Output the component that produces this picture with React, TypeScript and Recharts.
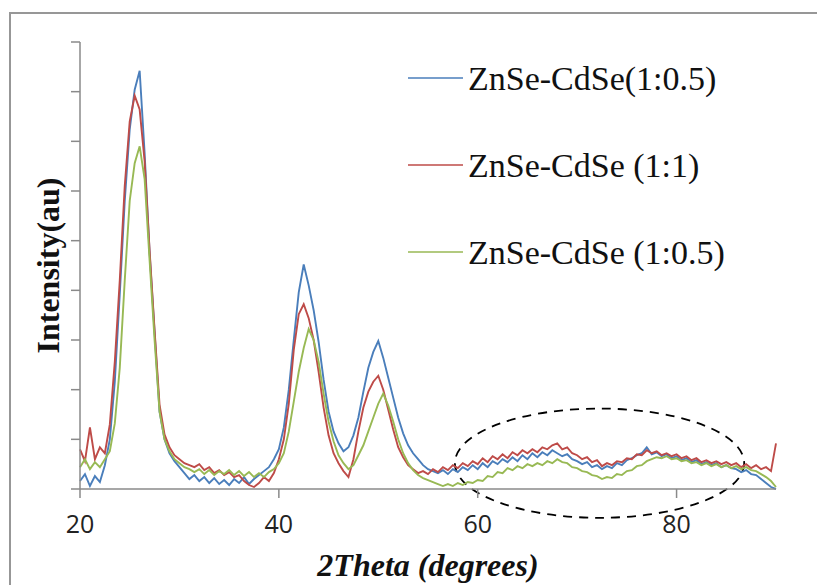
import React from 'react';
import {
  LineChart,
  Line,
  XAxis,
  YAxis,
  Label,
  ReferenceArea,
} from 'recharts';

// 2Theta grid (degrees)
const twoTheta = [
  20, 20.5, 21, 21.5, 22, 22.5, 23, 23.5, 24, 24.5, 25, 25.5, 26, 26.5, 27, 27.5, 28, 28.5, 29, 29.5,
  30, 30.5, 31, 31.5, 32, 32.5, 33, 33.5, 34, 34.5, 35, 35.5, 36, 36.5, 37, 37.5, 38, 38.5, 39, 39.5,
  40, 40.5, 41, 41.5, 42, 42.5, 43, 43.5, 44, 44.5, 45, 45.5, 46, 46.5, 47, 47.5, 48, 48.5, 49, 49.5,
  50, 50.5, 51, 51.5, 52, 52.5, 53, 53.5, 54, 54.5, 55, 55.5, 56, 56.5, 57, 57.5, 58, 58.5, 59, 59.5,
  60, 60.5, 61, 61.5, 62, 62.5, 63, 63.5, 64, 64.5, 65, 65.5, 66, 66.5, 67, 67.5, 68, 68.5, 69, 69.5,
  70, 70.5, 71, 71.5, 72, 72.5, 73, 73.5, 74, 74.5, 75, 75.5, 76, 76.5, 77, 77.5, 78, 78.5, 79, 79.5,
  80, 80.5, 81, 81.5, 82, 82.5, 83, 83.5, 84, 84.5, 85, 85.5, 86, 86.5, 87, 87.5, 88, 88.5, 89, 89.5,
  90,
];

const blueSeries = [
  8, 15, 3, 13, 7, 24, 50, 108, 196, 290, 362, 402, 421, 338, 238, 158, 78, 50, 36, 28,
  22, 16, 10, 14, 8, 12, 6, 11, 5, 9, 4, 10, 6, 12, 5, 10, 14, 18, 22, 30,
  40, 62, 100, 150, 198, 226, 205, 180, 148, 110, 78, 58, 46, 38, 42, 54, 72, 98, 122, 138,
  149, 132, 112, 92, 72, 56, 44, 36, 30, 24, 20, 18, 16, 19, 15, 20, 17, 22, 19, 24,
  20, 26, 22, 28, 25, 30, 27, 32, 28, 34, 30, 36, 32, 37, 34, 39, 36, 33, 35, 30,
  28, 25, 27, 22, 24, 20, 23, 21, 26, 24, 29, 31, 34, 36, 42, 35, 37, 33, 35, 31,
  33, 29, 31, 27, 29, 25, 27, 24, 26, 22, 24, 21, 20, 17, 19, 15, 14, 10, 6, 2,
  0,
];

const redSeries = [
  40, 28, 62, 30, 42, 36, 65, 128, 210, 305, 370, 396, 382, 330, 240, 160, 85, 55, 42, 34,
  30, 26, 24, 22, 25, 19, 22, 16, 19, 14, 17, 12, 14, 8, 4, 2, 6, 12, 8, 16,
  30, 50, 86, 140, 176, 186, 172, 150, 118, 82, 54, 36, 26, 18, 12, 30, 58, 82, 98, 108,
  114, 100, 80, 60, 42, 32, 24, 20, 16, 18, 15, 20, 17, 22, 19, 24, 21, 26, 23, 28,
  25, 31, 27, 33, 30, 35, 31, 37, 34, 39, 36, 40, 37, 42, 40, 44, 46, 40, 42, 36,
  34, 30, 32, 27, 29, 23, 26, 24, 28, 27, 31, 30, 35, 34, 39, 36, 38, 34, 36, 33,
  35, 31, 33, 29, 31, 27, 29, 26, 28, 25, 27, 24, 26, 22, 25, 21, 24, 20, 22, 18,
  46,
];

const greenSeries = [
  22, 30, 20, 27, 22, 30, 38, 66, 122, 210, 290, 328, 345, 312, 230, 150, 78, 50, 38, 30,
  26, 22, 20, 17, 20, 15, 19, 14, 18, 15, 19, 14, 18, 13, 17, 12, 16, 12, 17, 20,
  26, 36, 58, 88, 118, 142, 161, 150, 128, 96, 68, 48, 34, 26, 20, 24, 34, 44, 58, 72,
  86, 96, 84, 68, 50, 36, 26, 19, 14, 11, 9, 7, 5, 3, 5, 3, 6, 4, 7, 6,
  9, 8, 13, 12, 17, 16, 21, 19, 23, 21, 25, 23, 26, 24, 28, 26, 30, 27, 26, 22,
  21, 18, 17, 14, 13, 10, 12, 11, 15, 14, 18, 19, 23, 24, 28, 30, 32, 31, 33, 30,
  31, 28, 29, 26, 27, 24, 26, 23, 25, 22, 24, 21, 23, 20, 22, 19, 18, 15, 12, 8,
  2,
];

const seriesNames = ['ZnSe-CdSe(1:0.5)', 'ZnSe-CdSe (1:1)', 'ZnSe-CdSe (1:0.5)'];
const seriesColors = ['#4a7ebb', '#be4b48', '#98b954'];
const xTicks = [20, 40, 60, 80];
const yTicks = [0, 50, 100, 150, 200, 250, 300, 350, 400, 450];

const data = twoTheta.map((t, i) => ({
  t,
  blue: blueSeries[i],
  red: redSeries[i],
  green: greenSeries[i],
}));

const keys = ['blue', 'red', 'green'];

const serif = '"Liberation Serif", "Times New Roman", serif';

const LegendBox = () => (
  <svg width={420} height={230} style={{ position: 'absolute', left: 400, top: 50 }}>
    {seriesNames.map((name, i) => (
      <g key={name}>
        <line x1={8} x2={63} y1={28 + i * 87} y2={28 + i * 87} stroke={seriesColors[i]} strokeWidth={1.5} />
        <text x={68} y={40 + i * 87} fontFamily={serif} fontSize={34} fill="#111">
          {name}
        </text>
      </g>
    ))}
  </svg>
);

const EllipseShape = (props: any) => {
  const { x, y, width, height } = props;
  return (
    <ellipse
      cx={x + width / 2}
      cy={y + height / 2}
      rx={width / 2}
      ry={height / 2}
      fill="none"
      stroke="#000"
      strokeWidth={1.8}
      strokeDasharray="9 7"
    />
  );
};

export default function App() {
  return (
    <div
      style={{
        position: 'absolute',
        left: 0,
        top: 0,
        width: 817,
        height: 585,
        overflow: 'hidden',
        background: '#fff',
      }}
    >
      <div
        style={{
          position: 'absolute',
          left: 9,
          top: 12,
          width: 900,
          height: 700,
          border: '2px solid #979797',
        }}
      />
      <div style={{ position: 'absolute', left: 0, top: 0 }}>
        <LineChart width={817} height={585} data={data} margin={{ top: 42, right: 41, left: 0, bottom: 0 }}>
          <XAxis
            dataKey="t"
            type="number"
            domain={[20, 90]}
            ticks={xTicks}
            height={96}
            stroke="#8a8a8a"
            strokeWidth={1.5}
            tickSize={9}
            tickMargin={17}
            tick={{ fill: '#222', fontSize: 25, fontFamily: '"Open Sans", sans-serif' }}
          >
            <Label
              value="2Theta (degrees)"
              position="insideBottom"
              offset={9}
              style={{
                fontFamily: serif,
                fontWeight: 'bold',
                fontStyle: 'italic',
                fontSize: 32,
                fill: '#111',
              }}
            />
          </XAxis>
          <YAxis
            type="number"
            domain={[0, 450]}
            ticks={yTicks}
            width={80}
            stroke="#8a8a8a"
            strokeWidth={1.5}
            tickSize={9}
            tick={() => <g />}
          >
            <Label
              value="Intensity(au)"
              position="center"
              angle={-90}
              dx={8}
              style={{
                fontFamily: serif,
                fontWeight: 'bold',
                fontSize: 32,
                fill: '#111',
                textAnchor: 'middle',
              }}
            />
          </YAxis>
          {keys.map((k, i) => (
            <Line
              key={k}
              dataKey={k}
              name={seriesNames[i]}
              type="linear"
              stroke={seriesColors[i]}
              strokeWidth={1.9}
              dot={false}
              activeDot={false}
              isAnimationActive={false}
            />
          ))}
          <ReferenceArea
            x1={57.7}
            x2={86.8}
            y1={-29}
            y2={81}
            ifOverflow="visible"
            shape={EllipseShape}
          />
        </LineChart>
      </div>
      <LegendBox />
    </div>
  );
}
